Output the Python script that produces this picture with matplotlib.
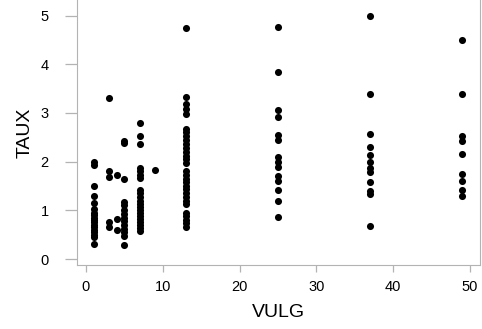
import matplotlib
matplotlib.use("Agg")
import matplotlib.pyplot as plt

plt.rcParams["font.family"] = ["Liberation Sans", "DejaVu Sans"]

# TAUX values read per VULG level
vulg_levels = [1, 3, 4, 5, 7, 9, 13, 25, 37, 49]
taux_1 = [2.0, 1.93, 1.5, 1.3, 1.15, 1.02, 0.95, 0.9, 0.85, 0.8, 0.75, 0.7,
          0.65, 0.6, 0.55, 0.5, 0.45, 0.3]
taux_3 = [3.3, 1.8, 1.68, 0.75, 0.65]
taux_4 = [1.73, 0.82, 0.6]
taux_5 = [2.43, 2.38, 1.65, 1.18, 1.1, 1.0, 0.92, 0.85, 0.78, 0.7, 0.62,
          0.55, 0.47, 0.28]
taux_7 = [2.8, 2.52, 2.37, 1.87, 1.8, 1.73, 1.67, 1.42, 1.35, 1.28, 1.2,
          1.13, 1.06, 1.0, 0.94, 0.88, 0.82, 0.76, 0.7, 0.64, 0.58]
taux_9 = [1.83]
taux_13 = [4.75, 3.33, 3.18, 3.08, 2.97, 2.68, 2.6, 2.52, 2.44, 2.36, 2.28,
           2.2, 2.12, 2.05, 1.98, 1.8, 1.73, 1.65, 1.58, 1.5, 1.43, 1.36,
           1.28, 1.2, 1.12, 0.95, 0.88, 0.8, 0.73, 0.66]
taux_25 = [4.76, 3.85, 3.07, 2.92, 2.55, 2.45, 2.1, 2.0, 1.9, 1.7, 1.6,
           1.42, 1.2, 0.86]
taux_37 = [5.0, 3.39, 2.57, 2.31, 2.14, 1.99, 1.87, 1.79, 1.58, 1.4, 1.34,
           0.68]
taux_49 = [4.5, 3.39, 2.52, 2.42, 2.16, 1.75, 1.6, 1.42, 1.3]
groups = [taux_1, taux_3, taux_4, taux_5, taux_7, taux_9, taux_13,
          taux_25, taux_37, taux_49]

x = []
y = []
for v, vals in zip(vulg_levels, groups):
    x += [v] * len(vals)
    y += vals

fig = plt.figure(figsize=(4.82, 3.29), dpi=100)
ax = fig.add_axes([0.159, 0.195, 0.837, 0.805])
ax.scatter(x, y, s=26, color="black", linewidths=0)

ax.set_xlim(-1.2, 51.3)
ax.set_ylim(-0.12, 5.32)
ax.set_xticks([0, 10, 20, 30, 40, 50])
ax.set_yticks([0, 1, 2, 3, 4, 5])

grey = "#b3b3b3"
for s in ["left", "right", "bottom"]:
    ax.spines[s].set_color(grey)
ax.spines["top"].set_visible(False)
ax.tick_params(axis="x", colors=grey, labelcolor="black", length=5,
               width=0.9, pad=6, labelsize=10.5)
ax.tick_params(axis="y", colors=grey, labelcolor="black", length=9,
               width=0.9, pad=11, labelsize=10.5)

ax.set_xlabel("VULG", fontsize=14, labelpad=7)
ax.set_ylabel("TAUX", fontsize=14, labelpad=5)

fig.savefig("out.png", dpi=100)
